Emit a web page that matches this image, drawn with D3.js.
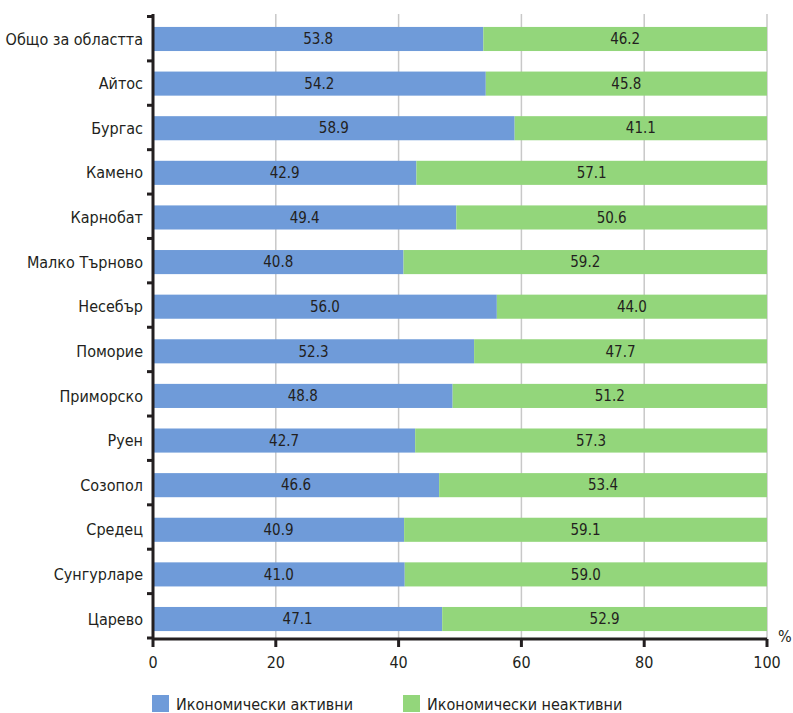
<!DOCTYPE html>
<html>
<head>
<meta charset="utf-8">
<script src="https://cdn.jsdelivr.net/npm/d3@7"></script>
<style>
  body { margin: 0; background: #fff; }
  svg text { font-family: "Liberation Sans Narrow", "DejaVu Sans Condensed", sans-serif; fill: #231f20; }
</style>
</head>
<body>
<svg id="chart" width="793" height="713"></svg>
<script>
const width = 793;
const height = 713;

// Data
const regions = ["Общо за областта", "Айтос", "Бургас", "Камено", "Карнобат", "Малко Търново",
  "Несебър", "Поморие", "Приморско", "Руен", "Созопол", "Средец", "Сунгурларе", "Царево"];
const active = [53.8, 54.2, 58.9, 42.9, 49.4, 40.8, 56.0, 52.3, 48.8, 42.7, 46.6, 40.9, 41.0, 47.1];
const inactive = [46.2, 45.8, 41.1, 57.1, 50.6, 59.2, 44.0, 47.7, 51.2, 57.3, 53.4, 59.1, 59.0, 52.9];
const xTicks = [0, 20, 40, 60, 80, 100];
const seriesNames = ["Икономически активни", "Икономически неактивни"];
const colors = ["#6f9bd9", "#93d67b"];

const plotLeft = 153, plotRight = 767;
const plotTop = 14, axisY = 639;

const svg = d3.select("#chart");

const x = d3.scaleLinear().domain([0, 100]).range([plotLeft, plotRight]);
const y = d3.scaleBand().domain(regions).range([14, 644]).paddingInner(0.46).paddingOuter(0.29);

// Gridlines
svg.append("g")
  .selectAll("line")
  .data(xTicks.slice(1))
  .join("line")
  .attr("x1", d => x(d)).attr("x2", d => x(d))
  .attr("y1", plotTop).attr("y2", axisY)
  .attr("stroke", "#c8c8c8")
  .attr("stroke-width", 1.5);

// Stacked bars
const rows = regions.map((r, i) => ({ region: r, vals: [active[i], inactive[i]] }));
const bars = svg.append("g");
rows.forEach(row => {
  let start = 0;
  row.vals.forEach((v, k) => {
    bars.append("rect")
      .attr("x", x(start))
      .attr("y", y(row.region))
      .attr("width", x(start + v) - x(start))
      .attr("height", y.bandwidth())
      .attr("fill", colors[k]);
    bars.append("text")
      .attr("x", x(start + v / 2))
      .attr("y", y(row.region) + y.bandwidth() / 2)
      .attr("dy", "0.35em")
      .attr("text-anchor", "middle")
      .attr("font-size", 15)
      .text(v.toFixed(1));
    start += v;
  });
});

// Y axis
const yAxis = svg.append("g").attr("transform", `translate(${plotLeft},0)`);
yAxis.append("line")
  .attr("x1", 0).attr("x2", 0)
  .attr("y1", plotTop).attr("y2", axisY)
  .attr("stroke", "#231f20").attr("stroke-width", 3);
const tickScale = d3.scaleLinear().domain([0, regions.length]).range([16.5, 638]);
d3.range(regions.length + 1).forEach(i => {
  const yy = tickScale(i);
  yAxis.append("line")
    .attr("x1", -6).attr("x2", 0)
    .attr("y1", yy).attr("y2", yy)
    .attr("stroke", "#231f20").attr("stroke-width", 3);
});
yAxis.selectAll("text.cat")
  .data(regions)
  .join("text")
  .attr("class", "cat")
  .attr("x", -10)
  .attr("y", d => y(d) + y.bandwidth() / 2)
  .attr("dy", "0.35em")
  .attr("text-anchor", "end")
  .attr("font-size", 16)
  .text(d => d);

// X axis
const xAxis = svg.append("g");
xAxis.append("line")
  .attr("x1", plotLeft).attr("x2", x(100))
  .attr("y1", axisY).attr("y2", axisY)
  .attr("stroke", "#231f20").attr("stroke-width", 3);
xAxis.selectAll("line.tick")
  .data(xTicks)
  .join("line")
  .attr("class", "tick")
  .attr("x1", d => x(d)).attr("x2", d => x(d))
  .attr("y1", axisY).attr("y2", axisY + 8)
  .attr("stroke", "#231f20").attr("stroke-width", 3);
xAxis.selectAll("text")
  .data(xTicks)
  .join("text")
  .attr("x", d => x(d))
  .attr("y", axisY + 29)
  .attr("text-anchor", "middle")
  .attr("font-size", 16)
  .text(d => d);
svg.append("text")
  .attr("x", x(100) + 11)
  .attr("y", axisY + 3)
  .attr("font-size", 16)
  .text("%");

// Legend
const legendX = [152, 403];
const legend = svg.append("g");
seriesNames.forEach((name, i) => {
  legend.append("rect")
    .attr("x", legendX[i]).attr("y", 695)
    .attr("width", 17).attr("height", 17)
    .attr("fill", colors[i]);
  legend.append("text")
    .attr("x", legendX[i] + 24).attr("y", 704)
    .attr("dy", "0.35em")
    .attr("font-size", 16)
    .text(name);
});
</script>
</body>
</html>
